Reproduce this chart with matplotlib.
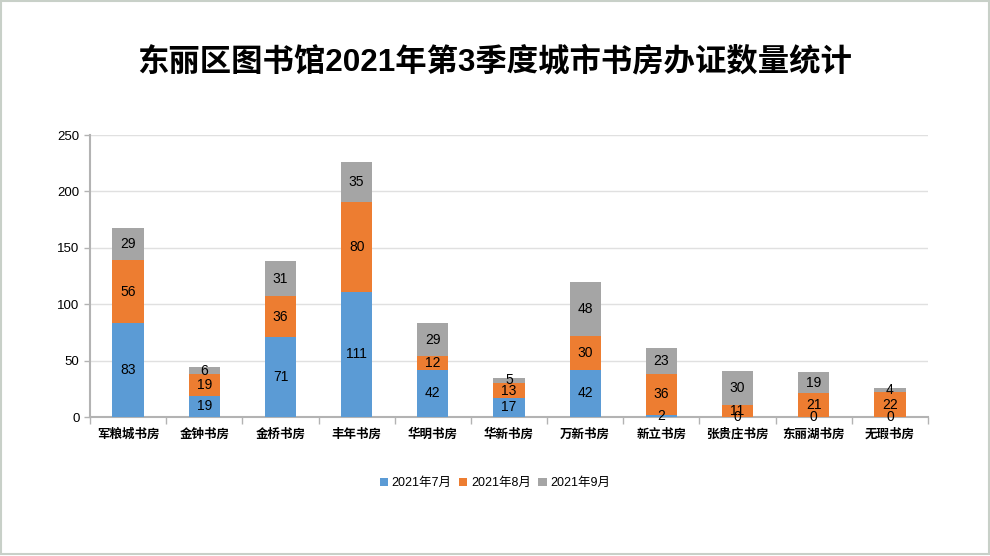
import matplotlib.pyplot as plt
import numpy as np

plt.rcParams['font.family'] = ['Liberation Sans', 'Noto Sans CJK SC', 'DejaVu Sans']

categories = ["军粮城书房", "金钟书房", "金桥书房", "丰年书房", "华明书房", "华新书房",
              "万新书房", "新立书房", "张贵庄书房", "东丽湖书房", "无瑕书房"]
jul = [83, 19, 71, 111, 42, 17, 42, 2, 0, 0, 0]
aug = [56, 19, 36, 80, 12, 13, 30, 36, 11, 21, 22]
sep = [29, 6, 31, 35, 29, 5, 48, 23, 30, 19, 4]
series_names = ["2021年7月", "2021年8月", "2021年9月"]
colors = ["#5B9BD5", "#ED7D31", "#A5A5A5"]

fig = plt.figure(figsize=(9.9, 5.56), dpi=100)
ax = fig.add_axes([0.0909, 0.25, 0.8465, 0.507])

x = np.arange(len(categories))
bottom = np.zeros(len(categories))
for vals, name, c in zip([jul, aug, sep], series_names, colors):
    bars = ax.bar(x, vals, width=0.41, bottom=bottom, color=c, label=name, zorder=3)
    texts = ax.bar_label(bars, labels=[str(v) for v in vals], label_type='center',
                         fontsize=10, color='black')
    for t in texts:
        t.set_zorder(10)
        t.set_clip_on(False)
    bottom += np.array(vals)

ax.set_xlim(-0.5, len(categories) - 0.5)
ax.set_ylim(0, 250)
ax.set_yticks(range(0, 251, 50))
ax.yaxis.grid(True, color='#E0E0E0', linewidth=1, zorder=0)
ax.set_xticks(x)
ax.set_xticklabels(categories, fontsize=9, fontweight='bold')
ax.set_xticks(np.arange(-0.5, len(categories), 1), minor=True)
ax.tick_params(axis='x', which='major', length=0, pad=8)
ax.tick_params(axis='x', which='minor', length=5, color='#B3B3B3', width=1)
ax.tick_params(axis='y', length=4, color='#B3B3B3', labelsize=9.5, width=1)
for s in ['top', 'right']:
    ax.spines[s].set_visible(False)
for s in ['left', 'bottom']:
    ax.spines[s].set_color('#B3B3B3')
    ax.spines[s].set_linewidth(1.5)

fig.text(0.5, 0.888, "东丽区图书馆2021年第3季度城市书房办证数量统计", ha='center', va='center',
         fontsize=22.6, fontweight='bold')

fig.legend(loc='center', bbox_to_anchor=(0.5, 0.131), ncol=3, frameon=False, fontsize=9,
           handlelength=0.65, handleheight=0.65, handletextpad=0.3, columnspacing=0.6)

fig.patches.append(plt.Rectangle((0.001, 0.003), 0.998, 0.996, transform=fig.transFigure,
                                 fill=False, edgecolor='#C8D0C8', linewidth=1.5))

fig.savefig("out.png", dpi=100)
